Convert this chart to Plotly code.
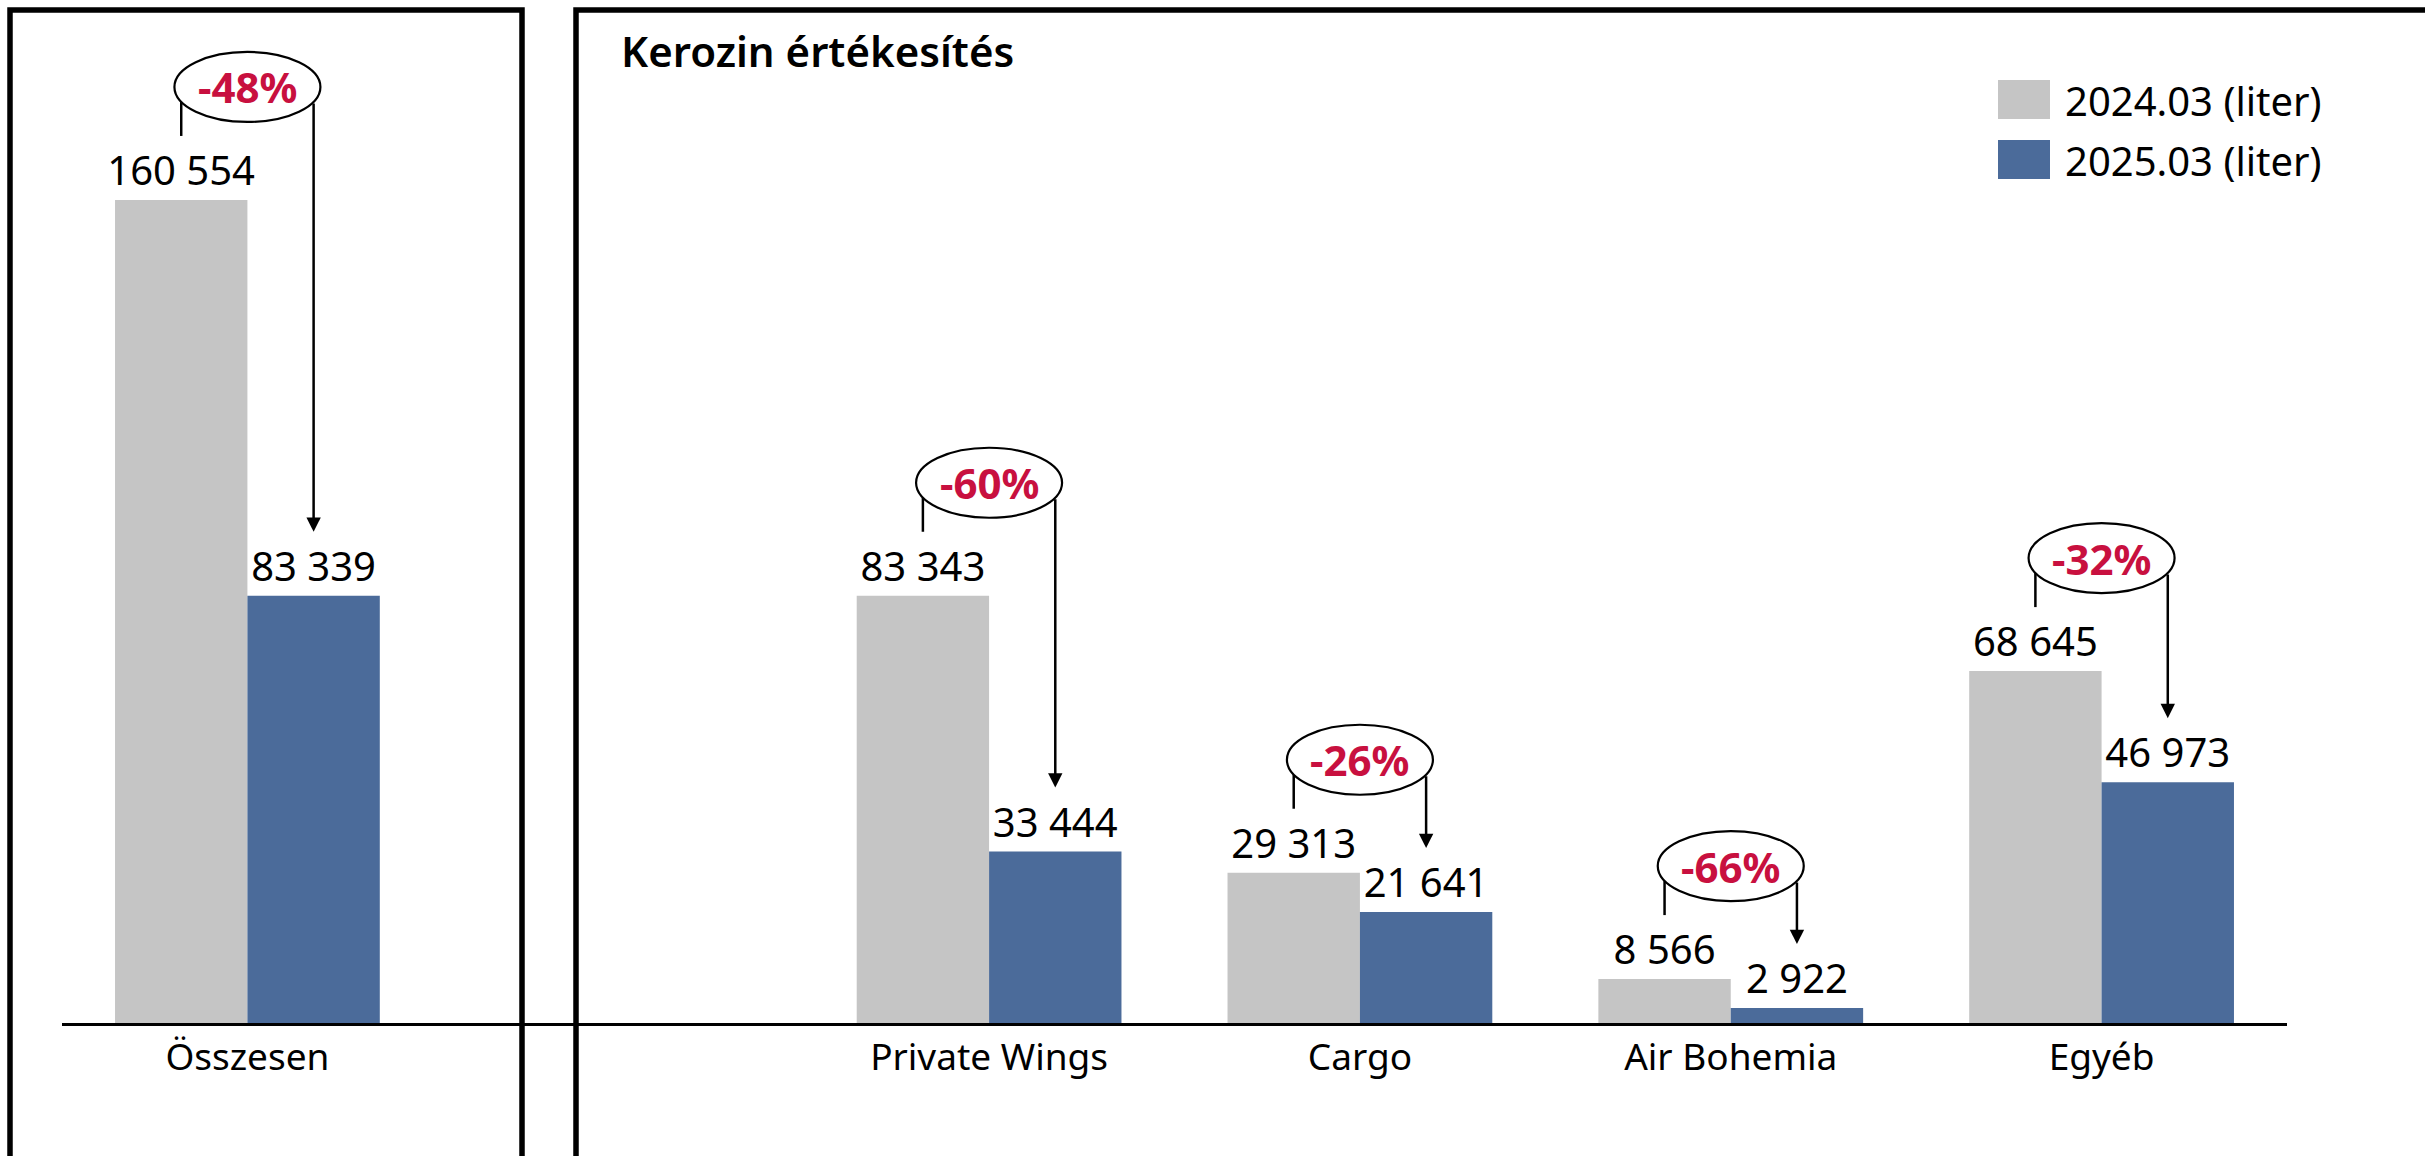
import plotly.graph_objects as go

# Kerozin sales, March 2024 vs March 2025 (liters)
categories = ["Összesen", " ", "Private Wings", "Cargo", "Air Bohemia", "Egyéb"]
liters_2024 = [160554, None, 83343, 29313, 8566, 68645]
liters_2025 = [83339, None, 33444, 21641, 2922, 46973]
change_labels = ["-48%", None, "-60%", "-26%", "-66%", "-32%"]
series_names = ["2024.03 (liter)", "2025.03 (liter)"]
title_text = "Kerozin értékesítés"

GRAY = "#C5C5C5"
BLUE = "#4B6B9A"
RED = "#C8103F"
FONT = "Noto Sans"

# page / plot geometry in pixels
W, H = 2425, 1156
M_L, M_R, M_T, M_B = 62, 138, 49, 133
PLOT_W = W - M_L - M_R
PLOT_H = H - M_T - M_B
Y_MAX = 190000
PX = Y_MAX / PLOT_H          # data units per pixel
BARGAP = 0.286
BAR_OFF = (1 - BARGAP) / 4   # centre of each bar from category centre


def paper_x(px):
    return (px - M_L) / PLOT_W


def paper_y(py):
    return (H - M_B - py) / PLOT_H


def fmt(v):
    return "" if v is None else f"{v:,}".replace(",", " ")


fig = go.Figure()
for name, vals, color in [(series_names[0], liters_2024, GRAY),
                          (series_names[1], liters_2025, BLUE)]:
    fig.add_trace(go.Bar(
        x=categories, y=vals, name=name,
        marker=dict(color=color, line=dict(width=0)),
        text=[fmt(v) for v in vals],
        textposition="outside",
        textfont=dict(family=FONT, size=40, color="black"),
        constraintext="none",
        cliponaxis=False,
        hoverinfo="skip",
    ))

shapes = []
annotations = []

# change markers: bracket line, ellipse with percent, arrow down to new value
for i, (old, new, lab) in enumerate(zip(liters_2024, liters_2025, change_labels)):
    if old is None:
        continue
    shapes.append(dict(
        type="line", xref="x", x0=i - BAR_OFF, x1=i - BAR_OFF,
        yref="y", ysizemode="pixel", yanchor=old, y0=64, y1=98,
        line=dict(color="black", width=2.5),
    ))
    shapes.append(dict(
        type="circle", xref="x", xsizemode="pixel", xanchor=i, x0=-73, x1=73,
        yref="y", ysizemode="pixel", yanchor=old, y0=78, y1=148,
        fillcolor="white", line=dict(color="black", width=2.2),
    ))
    annotations.append(dict(
        x=i, y=old, yshift=113, xref="x", yref="y",
        text=f"<b>{lab}</b>", showarrow=False,
        font=dict(family=FONT, size=42, color=RED),
        xanchor="center", yanchor="middle",
    ))
    annotations.append(dict(
        x=i + BAR_OFF, y=new + 64 * PX, xref="x", yref="y",
        ax=i + BAR_OFF, ay=old + 98 * PX, axref="x", ayref="y",
        text="", showarrow=True, arrowhead=2, arrowsize=1.15,
        arrowwidth=2.5, arrowcolor="black", standoff=0,
    ))

# framing boxes
for x0, x1 in [(10, 522), (576, 2600)]:
    shapes.append(dict(
        type="rect", xref="paper", yref="paper",
        x0=paper_x(x0), x1=paper_x(x1), y0=paper_y(10), y1=paper_y(1300),
        line=dict(color="black", width=5.5), fillcolor="rgba(0,0,0,0)",
    ))

# legend drawn by hand (large swatches)
for k, (name, color) in enumerate(zip(series_names, [GRAY, BLUE])):
    top = 80 + 60 * k
    shapes.append(dict(
        type="rect", xref="paper", yref="paper",
        x0=paper_x(1998), x1=paper_x(2050), y0=paper_y(top), y1=paper_y(top + 39),
        fillcolor=color, line=dict(width=0),
    ))
    annotations.append(dict(
        x=paper_x(2063), y=paper_y(top + 20), xref="paper", yref="paper",
        text=name, showarrow=False, xanchor="left", yanchor="middle",
        font=dict(family=FONT, size=40, color="black"),
    ))

annotations.append(dict(
    x=paper_x(619), y=paper_y(51), xref="paper", yref="paper",
    text=title_text, showarrow=False, xanchor="left", yanchor="middle",
    font=dict(family=FONT, size=42, color="black", weight=600),
))

fig.update_layout(
    width=W, height=H,
    margin=dict(l=M_L, r=M_R, t=M_T, b=M_B),
    barmode="group", bargap=BARGAP, bargroupgap=0,
    showlegend=False,
    plot_bgcolor="white", paper_bgcolor="white",
    font=dict(family=FONT, color="black"),
    shapes=shapes, annotations=annotations,
    xaxis=dict(
        type="category", categoryorder="array", categoryarray=categories,
        range=[-0.5, len(categories) - 0.5],
        showline=True, linecolor="black", linewidth=2.5,
        showgrid=False, ticks="", tickfont=dict(family=FONT, size=37, color="black"),
        fixedrange=True,
    ),
    yaxis=dict(range=[0, Y_MAX], visible=False, showgrid=False, fixedrange=True),
)

fig.write_html(
    "out.html",
    config={"displayModeBar": False},
    post_script="document.body.style.margin='0';document.body.style.overflow='hidden';",
)
